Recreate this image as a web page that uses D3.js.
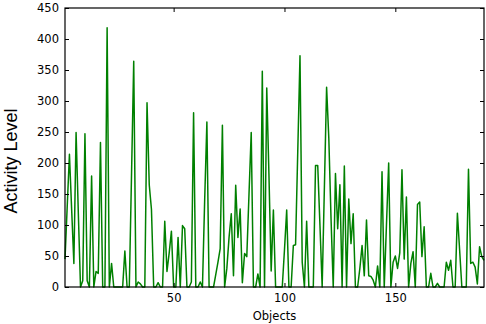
<!DOCTYPE html>
<html><head><meta charset="utf-8">
<script src="https://cdn.jsdelivr.net/npm/d3@7"></script>
<style>body{margin:0;background:#fff}</style>
</head><body>
<svg id="c" width="486" height="324"></svg>
<script>
// Activity level for objects 1..190
const activity = [
 45,130,214,125,38,249,120,0,10,247,
 10,0,179,0,25,22,233,0,0,418,
 0,38,0,0,0,0,0,58,0,0,
 180,364,0,8,5,0,0,297,165,125,
 0,0,7,0,0,106,25,55,90,0,
 0,80,0,99,94,0,0,8,281,0,
 0,8,0,140,266,0,0,0,20,40,
 62,261,0,30,80,118,18,164,80,126,
 7,54,49,150,249,0,0,21,0,348,
 0,321,180,26,124,0,0,0,0,60,
 124,0,0,67,68,220,373,40,0,106,
 0,0,0,196,196,100,0,160,322,240,
 110,0,183,94,165,0,195,0,142,70,
 118,0,0,30,67,18,108,18,17,11,
 0,34,0,186,0,100,200,0,40,50,
 30,55,189,45,145,0,38,57,0,133,
 137,49,97,0,0,22,0,0,6,0,
 0,0,40,27,43,0,0,119,60,0,
 0,0,190,38,40,32,5,65,49,43
];
const xTickValues = [50, 100, 150];
const yTickValues = [0, 50, 100, 150, 200, 250, 300, 350, 400, 450];
const xLabel = "Objects";
const yLabel = "Activity Level";

const svg = d3.select("#c");
const L = 65, R = 484, T = 8, B = 287;
const x = d3.scaleLinear().domain([1, activity.length]).range([L, R]);
const y = d3.scaleLinear().domain([0, 450]).range([B, T]);

const line = d3.line().x((d, i) => x(i + 1)).y(d => y(d));
svg.append("path").datum(activity)
  .attr("d", line).attr("fill", "none")
  .attr("stroke", "#008000").attr("stroke-width", 1.5)
  .attr("stroke-linejoin", "round");

const font = "'DejaVu Sans', sans-serif";
function style(g, labels) {
  g.select(".domain").remove();
  g.selectAll(".tick line").attr("stroke", "#000").attr("stroke-width", 1);
  g.selectAll(".tick text").attr("fill", "#000").style("font-family", font).style("font-size", "11.5px");
  if (!labels) g.selectAll(".tick text").remove();
}
svg.append("g").attr("transform", `translate(0,${B})`)
  .call(d3.axisBottom(x).tickValues(xTickValues).tickSizeInner(-4).tickSizeOuter(0).tickPadding(7))
  .call(g => style(g, true));
svg.append("g").attr("transform", `translate(0,${T})`)
  .call(d3.axisTop(x).tickValues(xTickValues).tickSizeInner(-4).tickSizeOuter(0))
  .call(g => style(g, false));
svg.append("g").attr("transform", `translate(${L},0)`)
  .call(d3.axisLeft(y).tickValues(yTickValues).tickSizeInner(-4).tickSizeOuter(0).tickPadding(6))
  .call(g => style(g, true));
svg.append("g").attr("transform", `translate(${R},0)`)
  .call(d3.axisRight(y).tickValues(yTickValues).tickSizeInner(-4).tickSizeOuter(0))
  .call(g => style(g, false));

svg.append("rect").attr("x", L).attr("y", T).attr("width", R - L).attr("height", B - T)
  .attr("fill", "none").attr("stroke", "#000").attr("stroke-width", 1.2);

svg.append("text").attr("x", (L + R) / 2).attr("y", 320)
  .attr("text-anchor", "middle").style("font-family", font).style("font-size", "11.5px")
  .text(xLabel);
svg.append("text").attr("transform", "translate(16.5,161) rotate(-90)")
  .attr("text-anchor", "middle").style("font-family", "'Liberation Sans', Arial, sans-serif")
  .style("font-size", "18px").text(yLabel);
</script>
</body></html>
